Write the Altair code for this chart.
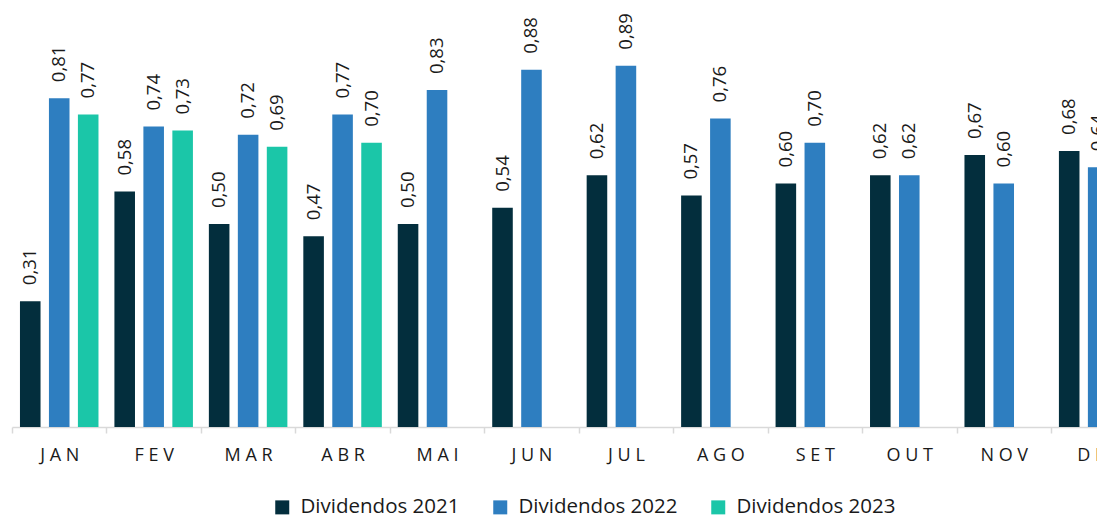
import altair as alt
import pandas as pd

months = ["JAN", "FEV", "MAR", "ABR", "MAI", "JUN", "JUL", "AGO", "SET", "OUT", "NOV", "DEZ"]
series = ["Dividendos 2021", "Dividendos 2022", "Dividendos 2023"]
div_2021 = [0.31, 0.58, 0.50, 0.47, 0.50, 0.54, 0.62, 0.57, 0.60, 0.62, 0.67, 0.68]
div_2022 = [0.81, 0.74, 0.72, 0.77, 0.83, 0.88, 0.89, 0.76, 0.70, 0.62, 0.60, 0.64]
div_2023 = [0.77, 0.73, 0.69, 0.70]
colors = ["#032E3D", "#2E7EC0", "#1BC6A8"]

rows = []
for s, vals in zip(series, [div_2021, div_2022, div_2023]):
    for m, v in zip(months, vals):
        rows.append({"mes": m, "serie": s, "valor": v})
df = pd.DataFrame(rows)

X_RANGE = 94.45 * 12
FONT = "Open Sans"

x_enc = alt.X(
    "mes:N",
    sort=months,
    scale=alt.Scale(domain=months, range=[0, X_RANGE], paddingInner=0, paddingOuter=0),
    axis=alt.Axis(
        title=None,
        labelAngle=0,
        labelFont=FONT,
        labelFontSize=18,
        labelColor="#1a1a1a",
        labelPadding=13,
        labelExpr="join(split(datum.label, ''), ' ')",
        domainColor="#d9d9d9",
        domainWidth=1.5,
        tickColor="#d9d9d9",
        tickWidth=1.5,
        tickSize=6,
        tickBand="extent",
        grid=False,
    ),
)
xo_enc = alt.XOffset(
    "serie:N",
    scale=alt.Scale(domain=series, paddingInner=0.29, paddingOuter=0.275),
)
y_enc = alt.Y(
    "valor:Q",
    scale=alt.Scale(domain=[0, 419 / 406], nice=False, zero=True),
    axis=None,
)

bars = alt.Chart(df).mark_bar().encode(
    x=x_enc,
    xOffset=xo_enc,
    y=y_enc,
    color=alt.Color(
        "serie:N",
        scale=alt.Scale(domain=series, range=colors),
        legend=alt.Legend(
            title=None,
            orient="none",
            legendX=260,
            legendY=489,
            direction="horizontal",
            columns=3,
            symbolType="square",
            symbolSize=196,
            symbolStrokeWidth=0,
            labelFont=FONT,
            labelFontSize=20.5,
            labelColor="#1a1a1a",
            labelOffset=8,
            columnPadding=30,
            padding=0,
            labelLimit=400,
        ),
    ),
)

labels = alt.Chart(df).transform_calculate(
    rotulo="replace(format(datum.valor, '.2f'), '.', ',')"
).mark_text(
    angle=270,
    align="left",
    baseline="middle",
    dx=16,
    font=FONT,
    fontSize=18.5,
    color="#1a1a1a",
).encode(
    x=x_enc,
    xOffset=xo_enc,
    y=y_enc,
    text="rotulo:N",
)

chart = (
    alt.layer(bars, labels)
    .properties(
        width=1085,
        height=419,
        autosize=alt.AutoSizeParams(type="none"),
        padding={"left": 4, "top": 0, "right": 0, "bottom": 88},
    )
    .configure_view(stroke=None)
)

chart.save("out.html", embed_options={"renderer": "svg", "actions": False})
